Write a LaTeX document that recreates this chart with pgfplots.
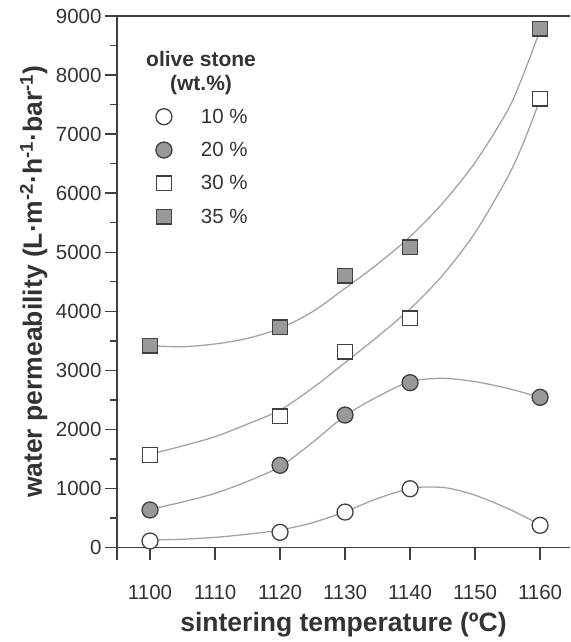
\documentclass[border=0pt]{standalone}
\usepackage{pgfplots}
\pgfplotsset{compat=1.18}
\usepackage{fontspec}
\setmainfont{Liberation Sans}
\definecolor{txt}{HTML}{333333}
\definecolor{axc}{HTML}{404040}
\definecolor{mfill}{HTML}{999999}
\definecolor{curve}{HTML}{A3A3A3}
\begin{document}
\begin{tikzpicture}
\useasboundingbox (-117pt,-94.5pt) rectangle (453pt,547.5pt);
\begin{axis}[
  scale only axis,
  width=453pt, height=531.5pt,
  xmin=1094.92, xmax=1164.6,
  ymin=0, ymax=9000,
  axis x line*=bottom, axis y line*=left,
  axis line style={axc, line width=1.4pt},
  every tick/.style={axc, line width=1.4pt},
  tick align=outside,
  major tick length=12pt, minor tick length=7pt,
  xtick={1100,1110,...,1160},
  extra x ticks={1094.92}, extra x tick labels={},
  ytick={0,1000,...,9000},
  minor y tick num=1,
  /pgf/number format/assume math mode=true,
  /pgf/number format/set thousands separator={},
  ticklabel style={font=\fontsize{20.5}{24}\selectfont, text=txt},
  xticklabel style={yshift=-22pt},
  xlabel={\textbf{sintering temperature (ºC)}},
  ylabel={\textbf{water permeability (L·m\textsuperscript{-2}·h\textsuperscript{-1}·bar\textsuperscript{-1})}},
  label style={font=\fontsize{26.5}{30}\selectfont, text=txt},
  xlabel style={at={(axis description cs:0.5,-0.1458)}, anchor=center},
  ylabel style={at={(axis description cs:-0.184,0.5)}, anchor=center},
  legend style={draw=none, fill=none, inner sep=0pt,
    at={(rel axis cs:0.0855,0.8295)}, anchor=north west,
    font=\fontsize{20.5}{24}\selectfont, text=txt, row sep=13.5pt,
    /tikz/every odd column/.append style={column sep=27pt}},
  legend cell align=left,
  clip=false,
]
% fitted curves
\addplot[curve, line width=1.3pt, smooth, forget plot] coordinates {
 (1100,127) (1105,140) (1110,172) (1115,225) (1120,296) (1125,420) (1130,607)
 (1135,830) (1140,1000) (1143,1025) (1146,1003) (1150,885) (1155,662) (1160,390)};
\addplot[curve, line width=1.3pt, smooth, forget plot] coordinates {
 (1100,646) (1105,770) (1110,917) (1115,1120) (1120,1370) (1125,1780) (1130,2230)
 (1135,2554) (1140,2808) (1145,2865) (1150,2808) (1155,2695) (1160,2543)};
\addplot[curve, line width=1.3pt, smooth, forget plot] coordinates {
 (1100,1578) (1105,1720) (1110,1877) (1115,2090) (1120,2328) (1125,2700) (1130,3130)
 (1135,3570) (1140,4040) (1145,4610) (1150,5330) (1155,6270) (1157.5,6870) (1160,7589)};
\addplot[curve, line width=1.3pt, smooth, forget plot] coordinates {
 (1100,3417) (1105,3400) (1110,3446) (1115,3542) (1120,3711) (1125,3993) (1130,4389)
 (1135,4800) (1140,5263) (1145,5830) (1150,6520) (1155,7400) (1157.5,8030) (1160,8762)};
% data points
\addplot[only marks, mark=*, mark size=8pt, mark options={draw=axc, fill=white, line width=1.3pt}]
 coordinates {(1100,110) (1120,257) (1130,600) (1140,995) (1160,375)};
\addlegendentry{10 \%}
\addplot[only marks, mark=*, mark size=8pt, mark options={draw=axc, fill=mfill, line width=1.3pt}]
 coordinates {(1100,635) (1120,1392) (1130,2243) (1140,2791) (1160,2543)};
\addlegendentry{20 \%}
\addplot[only marks, mark=square*, mark size=7.3pt, mark options={draw=axc, fill=white, line width=1.3pt}]
 coordinates {(1100,1567) (1120,2221) (1130,3316) (1140,3881) (1160,7600)};
\addlegendentry{30 \%}
\addplot[only marks, mark=square*, mark size=7.3pt, mark options={draw=axc, fill=mfill, line width=1.3pt}]
 coordinates {(1100,3417) (1120,3728) (1130,4600) (1140,5083) (1160,8785)};
\addlegendentry{35 \%}
\draw[axc, line width=1.4pt] (rel axis cs:0,1) -- (rel axis cs:1,1);
\node[align=center, font=\fontsize{21}{24}\selectfont\bfseries, text=txt]
  at (axis cs:1107.85,8030) {olive stone\\(wt.\%)};
\end{axis}
\end{tikzpicture}
\end{document}
